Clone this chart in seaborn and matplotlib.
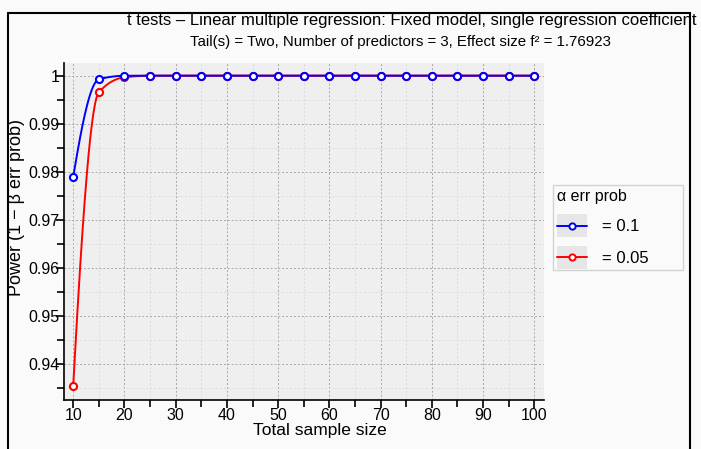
import numpy as np
import pandas as pd
import seaborn as sns
import matplotlib
matplotlib.use("Agg")
from matplotlib import pyplot as plt
from matplotlib.lines import Line2D
from matplotlib.patches import Rectangle
from matplotlib.legend_handler import HandlerLine2D
from matplotlib.ticker import MultipleLocator

# data
sample_size = [10, 15, 20, 25, 30, 35, 40, 45, 50, 55, 60, 65, 70, 75, 80, 85, 90, 95, 100]
power_a01 = [0.9789, 0.99925, 0.99998] + [1.0] * 16
power_a005 = [0.9355, 0.99655, 0.99966] + [1.0] * 16
alpha_labels = ["= 0.1", "= 0.05"]
colors = ["blue", "red"]

df = pd.DataFrame({
    "n": sample_size * 2,
    "power": power_a01 + power_a005,
    "alpha": [alpha_labels[0]] * len(sample_size) + [alpha_labels[1]] * len(sample_size),
})

sns.set_style("white")
plt.rcParams["font.family"] = ["Liberation Sans", "DejaVu Sans"]
plt.rcParams["text.color"] = "black"
plt.rcParams["axes.labelcolor"] = "black"

W, H = 701, 449
fig = plt.figure(figsize=(W / 100, H / 100), dpi=100)
fig.patch.set_facecolor("#fafafa")
ax = fig.add_axes([64 / W, 49 / H, (543.5 - 64) / W, (400 - 62.7) / H])
ax.set_facecolor("#efefef")


def pchip(x, y, xs):
    # monotone cubic for the smooth connecting curve
    x = np.asarray(x, float)
    y = np.asarray(y, float)
    h = np.diff(x)
    d = np.diff(y) / h
    m = np.zeros_like(y)
    for k in range(1, len(x) - 1):
        if d[k - 1] * d[k] > 0:
            w1 = 2 * h[k] + h[k - 1]
            w2 = h[k] + 2 * h[k - 1]
            m[k] = (w1 + w2) / (w1 / d[k - 1] + w2 / d[k])
    m[0] = d[0] * 1.6
    m[-1] = d[-1]
    idx = np.clip(np.searchsorted(x, xs) - 1, 0, len(x) - 2)
    t = (xs - x[idx]) / h[idx]
    h00 = 2 * t**3 - 3 * t**2 + 1
    h10 = t**3 - 2 * t**2 + t
    h01 = -2 * t**3 + 3 * t**2
    h11 = t**3 - t**2
    return h00 * y[idx] + h10 * h[idx] * m[idx] + h01 * y[idx + 1] + h11 * h[idx] * m[idx + 1]


xs = np.linspace(10, 100, 600)
# red first so blue sits on top
for lab, col, z in [(alpha_labels[1], colors[1], 2), (alpha_labels[0], colors[0], 3)]:
    sub = df[df.alpha == lab]
    ax.plot(xs, pchip(sub.n, sub.power, xs), color=col, lw=1.4, zorder=z)
    sns.scatterplot(data=sub, x="n", y="power", ax=ax, marker="o", s=26,
                    facecolor="white", edgecolor=col, linewidth=1.5, zorder=z + 0.5,
                    legend=False)

ax.set_xlim(8.2, 101.8)
ax.set_ylim(0.9325, 1.0027)
ax.xaxis.set_major_locator(MultipleLocator(10))
ax.xaxis.set_minor_locator(MultipleLocator(5))
ax.yaxis.set_minor_locator(MultipleLocator(0.005))
ax.set_yticks(np.arange(0.94, 1.0001, 0.01))
ax.set_yticklabels(["0.94", "0.95", "0.96", "0.97", "0.98", "0.99", "1"])

ax.grid(which="major", color="#a8a8a8", linestyle=(0, (2, 2)), linewidth=0.7)
ax.grid(which="minor", color="#dcdcdc", linestyle=(0, (2, 2)), linewidth=0.7)
ax.set_axisbelow(True)

for s in ["top", "right"]:
    ax.spines[s].set_visible(False)
for s in ["left", "bottom"]:
    ax.spines[s].set_color("black")
    ax.spines[s].set_linewidth(1.2)

ax.tick_params(which="major", direction="out", length=6, width=1.2, colors="black",
               labelsize=11.5, bottom=True, left=True)
ax.tick_params(axis="y", which="major", pad=-3)
ax.tick_params(axis="x", which="major", pad=0)
ax.tick_params(which="minor", direction="out", length=5, width=1.2, colors="black",
               bottom=True, left=True)

ax.set_xlabel("Total sample size", fontsize=12.5)
ax.xaxis.set_label_coords((320 - 64) / 479.5, -(423.5 - 400) / 337.3)
ax.set_ylabel("Power (1 \u2212 \u03b2 err prob)", fontsize=13)
ax.yaxis.set_label_coords((25 - 64) / 479.5, (400 - 208) / 337.3)

fig.text(412 / W, 1 - 21 / H, "t tests \u2013 Linear multiple regression: Fixed model, single regression coefficient",
         ha="center", va="center", fontsize=12)
fig.text(400 / W, 1 - 42 / H, "Tail(s) = Two, Number of predictors = 3, Effect size f\u00b2 = 1.76923",
         ha="center", va="center", fontsize=10.8)

# frame around the chart
top = 1 - 12.5 / H
for xx, yy in [([8, 8], [0, top]), ([8, 690], [top, top]), ([690, 690], [0, top])]:
    fig.add_artist(Line2D([v / W for v in xx], yy, transform=fig.transFigure, color="black", lw=1.5))


class GrayBoxHandler(HandlerLine2D):
    def create_artists(self, legend, orig_handle, xdescent, ydescent, width, height, fontsize, trans):
        arts = super().create_artists(legend, orig_handle, xdescent, ydescent, width, height, fontsize, trans)
        bg = Rectangle((-xdescent, -ydescent - 4), width, height + 8, facecolor="#e6e6e6",
                       edgecolor="none", transform=trans)
        return [bg] + list(arts)


handles = [Line2D([], [], color=c, lw=1.4, marker="o", markersize=4.5, markerfacecolor="white",
                  markeredgecolor=c, markeredgewidth=1.4) for c in colors]
leg = fig.legend(handles, alpha_labels, title="\u03b1 err prob", loc="upper left",
                 bbox_to_anchor=(553 / W, 1 - 185 / H, 130 / W, 0), mode="expand",
                 frameon=True, fontsize=12, title_fontsize=11.5, handlelength=1.8,
                 handletextpad=0.9, labelspacing=1.0, borderpad=0.25, alignment="left",
                 borderaxespad=0, handler_map={Line2D: GrayBoxHandler(numpoints=1)})
leg.get_frame().set_facecolor("#fafafa")
leg.get_frame().set_edgecolor("#c8c8c8")
leg.get_frame().set_linewidth(1.0)
leg.get_frame().set_boxstyle("square", pad=0)
leg._legend_box.sep = 11

fig.savefig("out.png", dpi=100, facecolor=fig.get_facecolor())
